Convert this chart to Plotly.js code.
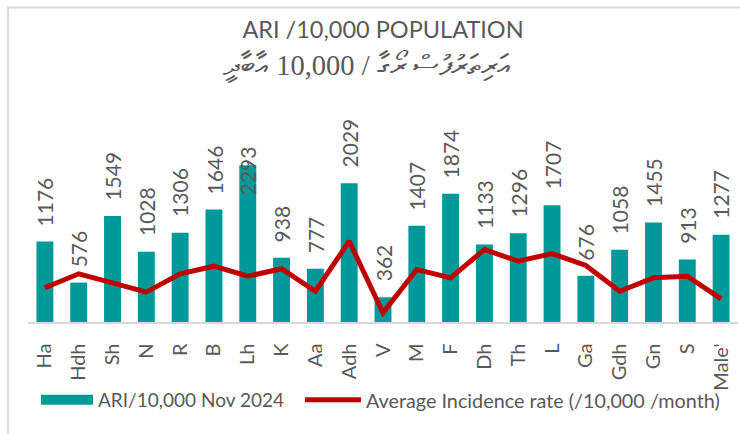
<!DOCTYPE html>
<html>
<head>
<meta charset="utf-8">
<script src="https://cdn.plot.ly/plotly-3.0.1.min.js"></script>
<style>
html,body{margin:0;padding:0;background:#fff;}
#chart{width:740px;height:434px;}
</style>
</head>
<body>
<div id="chart"></div>
<script>
// ---- data ----
var atolls = ["Ha","Hdh","Sh","N","R","B","Lh","K","Aa","Adh","V","M","F","Dh","Th","L","Ga","Gdh","Gn","S","Male'"];
var ariNov2024 = [1176,576,1549,1028,1306,1646,2293,938,777,2029,362,1407,1874,1133,1296,1707,676,1058,1455,913,1277];
var avgIncidence = [500,705,573,436,705,816,670,778,450,1181,134,768,646,1060,889,1001,826,450,646,670,339];
var barName = "ARI/10,000 Nov 2024";
var lineName = "Average Incidence rate (/10,000 /month)";
var titleLine1 = "ARI /10,000 POPULATION";
var titleLine2 = "އަރިތަރުފުސް ރޯގާ / 10,000 އާބާދީ";

var teal = "#009999";
var red = "#C00000";
var grey = "#595959";
var font = "Lato, 'Open Sans', sans-serif";

// plot geometry
var W = 740, H = 434, mL = 28, mR = 2, mT = 100, mB = 112;
var plotH = H - mT - mB;
var yMax = 3246;
var pxPerUnit = plotH / yMax;
var labelGap = 13.5, digitPx = 11.7, labelTopLimit = 110, labelClampTop = 144;

var traces = [
  {type:"bar", x:atolls, y:ariNov2024, name:barName, marker:{color:teal}, showlegend:false, hoverinfo:"skip"},
  {type:"scatter", mode:"lines", x:[null], y:[null], name:barName, line:{color:teal, width:12}, showlegend:true, legend:"legend"},
  {type:"scatter", mode:"lines", x:atolls, y:avgIncidence, name:lineName, line:{color:red, width:5}, legend:"legend2"}
];

// data labels (value labels), placed above bars; a label that would run too high is pulled down into the plot
var annotations = atolls.map(function(a,i){
  var v = ariNov2024[i];
  var txt = String(v);
  var topPx = (H - mB) - v*pxPerUnit - labelGap - 4 - txt.length*digitPx;
  var ann = {x:a, xref:"x", text:txt, showarrow:false, textangle:-90, xanchor:"center",
    font:{family:font, size:21, color:grey}};
  if (topPx < labelTopLimit) {
    ann.yref = "paper"; ann.y = (H - mB - labelClampTop)/plotH; ann.yanchor = "top";
  } else {
    ann.yref = "y"; ann.y = v; ann.yanchor = "bottom"; ann.yshift = labelGap;
  }
  return ann;
});
annotations.push({xref:"paper", yref:"paper", x:(366-mL)/(W-mL-mR), y:(H-mB-66)/plotH, xanchor:"center", yanchor:"middle",
  text:titleLine2, showarrow:false, font:{family:"'Liberation Serif', serif", size:28.5, color:grey}});

var layout = {
  width:W, height:H,
  margin:{l:mL, r:mR, t:mT, b:mB},
  paper_bgcolor:"#fff", plot_bgcolor:"#fff",
  title:{text:titleLine1, x:383/W, xanchor:"center", y:1-29.5/H, yanchor:"middle", xref:"container", yref:"container",
    font:{family:font, size:23.5, color:grey}},
  bargap:0.5,
  xaxis:{type:"category", range:[-0.5,20.5], showline:true, linecolor:"#d9d9d9", linewidth:1.5, ticks:"", tickangle:-90,
    ticklabelstandoff:12, tickfont:{family:font, size:20, color:grey}, showgrid:false, zeroline:false, fixedrange:true},
  yaxis:{range:[0,yMax], visible:false, showgrid:false, zeroline:false, fixedrange:true},
  showlegend:true,
  legend:{orientation:"h", xref:"container", yref:"container", x:36/W, y:1-400/H, xanchor:"left", yanchor:"middle",
    itemwidth:52, bgcolor:"rgba(0,0,0,0)", font:{family:font, size:19, color:grey}},
  legend2:{orientation:"h", xref:"container", yref:"container", x:300/W, y:1-400/H, xanchor:"left", yanchor:"middle",
    itemwidth:56, bgcolor:"rgba(0,0,0,0)", font:{family:font, size:19.8, color:grey}},
  annotations:annotations,
  shapes:[{type:"rect", xref:"paper", yref:"paper", x0:-20/(W-mL-mR), x1:1.2, y0:-1, y1:(H-mB-7.5)/plotH,
    line:{color:"#d9d9d9", width:2}, fillcolor:"rgba(0,0,0,0)", layer:"below"}]
};

Plotly.newPlot("chart", traces, layout, {displayModeBar:false, staticPlot:true});
</script>
</body>
</html>
